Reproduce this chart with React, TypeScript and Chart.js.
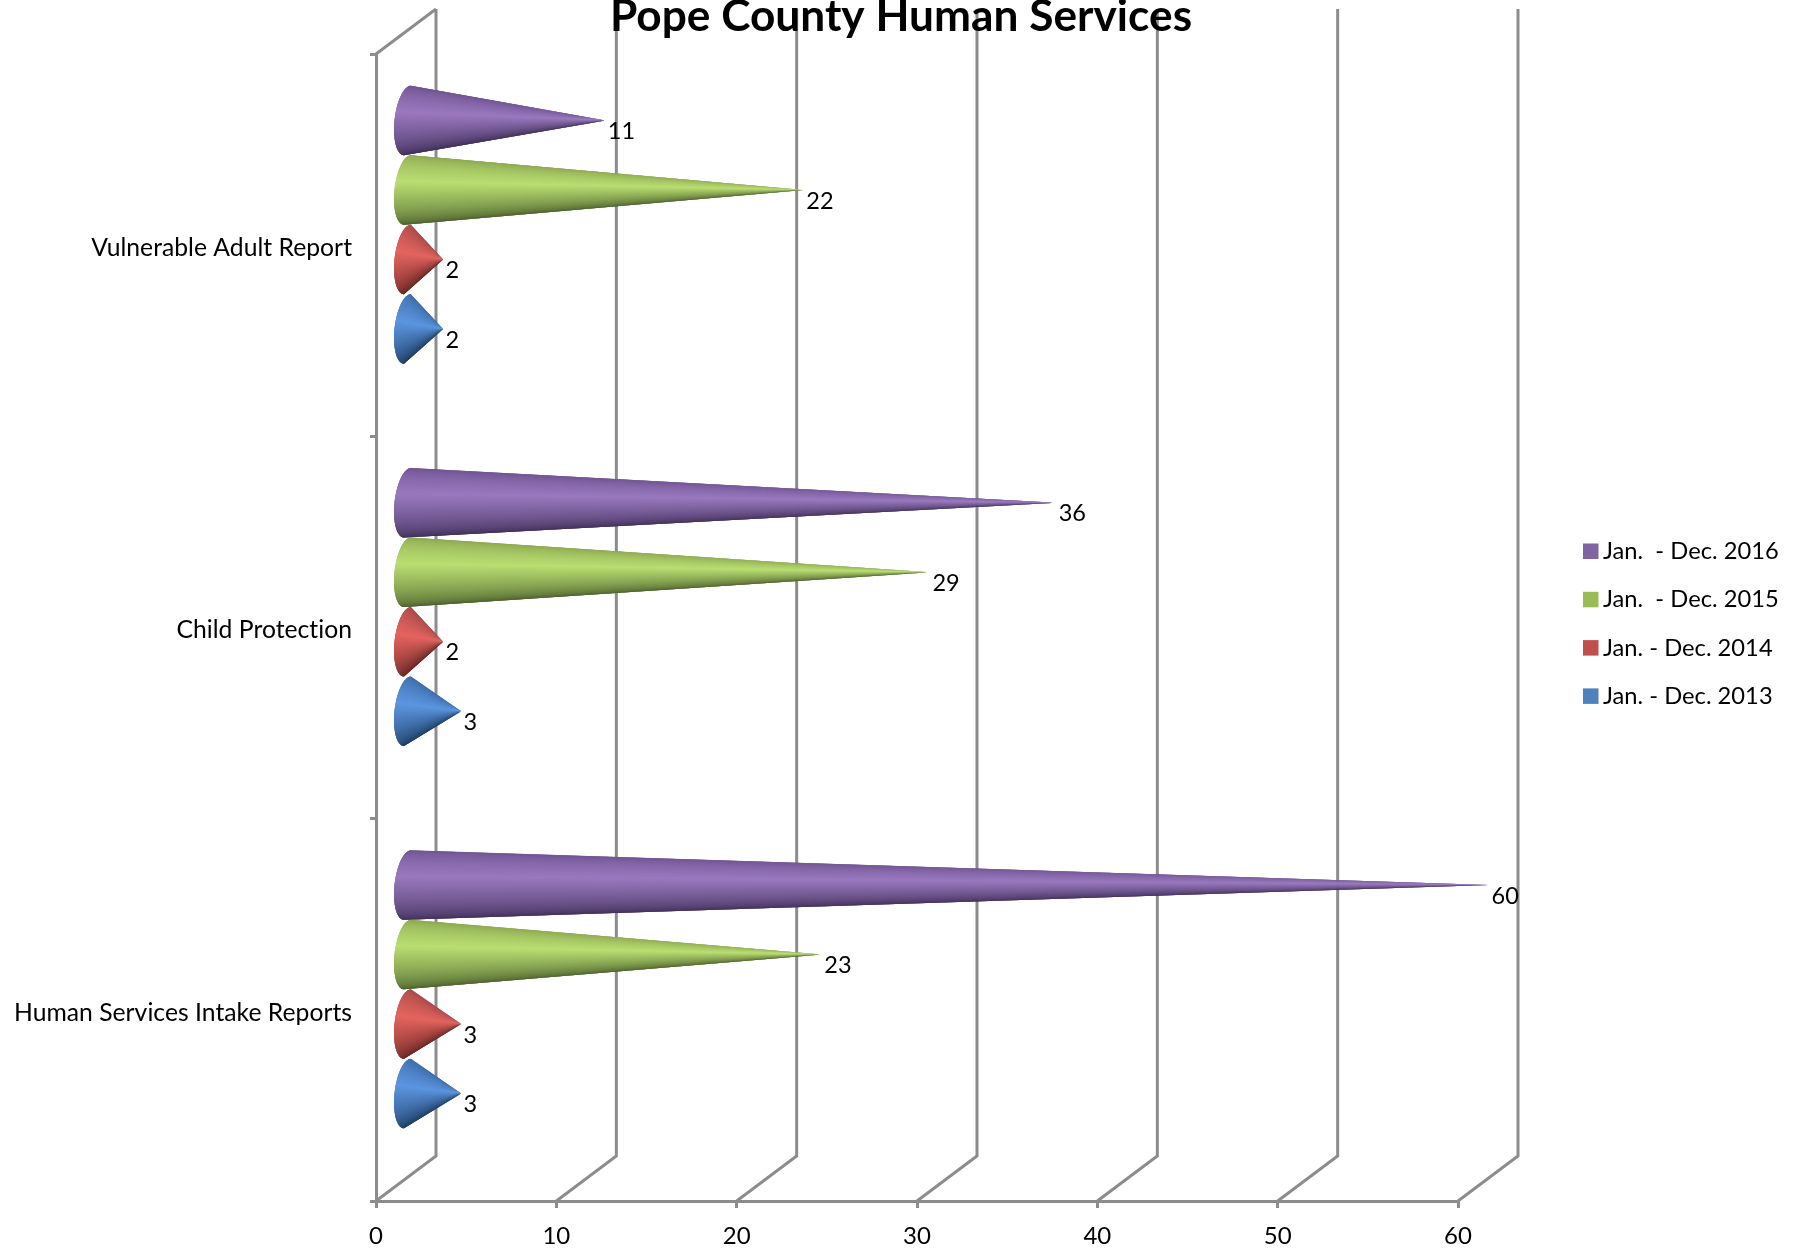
import React, { useEffect, useRef } from "react";
import { Chart, registerables, layouts } from "chart.js";

Chart.register(...registerables);

const categories = ["Vulnerable Adult Report", "Child Protection", "Human Services Intake Reports"];
const seriesNames = ["Jan.  - Dec. 2016", "Jan.  - Dec. 2015", "Jan. - Dec. 2014", "Jan. - Dec. 2013"];
const values2016 = [11, 36, 60];
const values2015 = [22, 29, 23];
const values2014 = [2, 2, 3];
const values2013 = [2, 3, 3];
const legendColors = ["#8064a2", "#9bbb59", "#c0504d", "#4f81bd"];
const coneRamps = [
  ["#6a4f8c", "#9a79bf", "#3a2b52"],
  ["#87a24d", "#bade72", "#465a2a"],
  ["#a64a48", "#e4645f", "#662725"],
  ["#3c6ca6", "#5c95e0", "#1d3c60"],
];

const FONT = "Lato, Carlito, sans-serif";
const AXIS = "#8c8c8c";
const LINE = 3;
const DEPTH_X = 60;
const DEPTH_Y = 45;
const CONE_LIFT = 20.5;

const hexToRgb = (h: string) => [1, 3, 5].map((i) => parseInt(h.slice(i, i + 2), 16));
function shade(ramp: string[], t: number) {
  const mid = 0.42;
  const [a, b, f] = t < mid ? [ramp[0], ramp[1], t / mid] : [ramp[1], ramp[2], (t - mid) / (1 - mid)];
  const ca = hexToRgb(a);
  const cb = hexToRgb(b);
  const c = ca.map((v, i) => Math.round(v + (cb[i] - v) * f));
  return `rgb(${c[0]},${c[1]},${c[2]})`;
}

function basePoint(cx: number, top: number, h: number, t: number) {
  // the slanted ellipse edge that closes the cone on the left
  const a = Math.PI * t;
  const mid = top + h / 2;
  const y = mid - (Math.cos(a) * h) / 2;
  const x = cx + 3.5 * Math.cos(a) - 13 * Math.sin(a);
  return [x, y];
}

function drawCone(ctx: CanvasRenderingContext2D, base: number, tip: number, cy: number, h: number, ramp: string[]) {
  const top = cy - h / 2;
  const steps = 80;
  for (let i = 0; i < steps; i++) {
    const t0 = i / steps;
    const t1 = Math.min(1, (i + 3) / steps);
    const p0 = basePoint(base, top, h, t0);
    const pm = basePoint(base, top, h, (t0 + t1) / 2);
    const p1 = basePoint(base, top, h, t1);
    ctx.beginPath();
    ctx.moveTo(p0[0], p0[1]);
    ctx.lineTo(pm[0], pm[1]);
    ctx.lineTo(p1[0], p1[1]);
    ctx.lineTo(tip, cy);
    ctx.closePath();
    ctx.fillStyle = shade(ramp, (i + 0.5) / steps);
    ctx.fill();
  }
}

const conePlugin = {
  id: "cones",
  beforeInit(chart: any) {
    const spacer = {
      position: "right",
      weight: 1,
      fullSize: false,
      options: {},
      width: 344,
      height: 0,
      isHorizontal: () => false,
      update(_w: number, h: number) {
        spacer.width = 344;
        spacer.height = h;
      },
      draw() {},
    };
    layouts.addBox(chart, spacer as any);
  },
  beforeDraw(chart: any) {
    const { ctx, chartArea, scales } = chart;
    const x = scales.x;
    ctx.letterSpacing = "0.02px";
    ctx.save();
    ctx.strokeStyle = AXIS;
    ctx.lineWidth = LINE;
    ctx.lineJoin = "miter";
    x.ticks.forEach((tick: any) => {
      const px = x.getPixelForValue(tick.value);
      ctx.beginPath();
      ctx.moveTo(px, chartArea.bottom);
      ctx.lineTo(px + DEPTH_X, chartArea.bottom - DEPTH_Y);
      ctx.lineTo(px + DEPTH_X, chartArea.top - DEPTH_Y);
      ctx.stroke();
    });
    ctx.beginPath();
    ctx.moveTo(chartArea.left, chartArea.top);
    ctx.lineTo(chartArea.left + DEPTH_X, chartArea.top - DEPTH_Y);
    ctx.stroke();
    ctx.restore();
  },
  beforeDatasetsDraw(chart: any) {
    const { ctx } = chart;
    ctx.save();
    chart.data.datasets.forEach((_: any, d: number) => {
      chart.getDatasetMeta(d).data.forEach((bar: any) => {
        drawCone(ctx, bar.base + DEPTH_X / 2, bar.x + DEPTH_X / 2 + 1, bar.y - CONE_LIFT, bar.height, coneRamps[d]);
      });
    });
    ctx.fillStyle = "#000";
    ctx.font = `23.5px ${FONT}`;
    ctx.textAlign = "left";
    ctx.textBaseline = "middle";
    chart.data.datasets.forEach((ds: any, d: number) => {
      chart.getDatasetMeta(d).data.forEach((bar: any, i: number) => {
        ctx.fillText(String(ds.data[i]), bar.x + DEPTH_X / 2 + 3.5, bar.y - CONE_LIFT + 11);
      });
    });
    ctx.restore();
    return false;
  },
  afterDraw(chart: any) {
    const { ctx } = chart;
    ctx.save();
    ctx.font = `23.7px ${FONT}`;
    ctx.textAlign = "left";
    ctx.textBaseline = "middle";
    chart.data.datasets.forEach((ds: any, d: number) => {
      const cy = 551.5 + d * 48.3;
      ctx.fillStyle = ds.backgroundColor;
      ctx.fillRect(1583, cy - 8, 15.5, 15.5);
      ctx.fillStyle = "#000";
      ctx.fillText(ds.label, 1603, cy);
    });
    ctx.restore();
  },
};

export default function App() {
  const ref = useRef<HTMLCanvasElement>(null);
  useEffect(() => {
    document.body.style.margin = "0";
    const seriesValues = [values2016, values2015, values2014, values2013];
    const chart = new Chart(ref.current!, {
      type: "bar",
      plugins: [conePlugin],
      data: {
        labels: categories,
        datasets: seriesNames.map((label, i) => ({
          label,
          data: seriesValues[i],
          backgroundColor: legendColors[i],
          borderWidth: 0,
          categoryPercentage: 0.727,
          barPercentage: 1,
        })),
      },
      options: {
        indexAxis: "y",
        responsive: false,
        animation: false,
        layout: { padding: { top: -10, left: 0, right: 0, bottom: 0 } },
        plugins: {
          tooltip: { enabled: false },
          legend: { display: false },
          title: {
            display: true,
            text: "Pope County Human Services",
            color: "#000",
            font: { family: FONT, size: 44.2, weight: "bold", lineHeight: 1.2 },
            padding: { top: 0, bottom: 11 },
          },
        },
        scales: {
          x: {
            min: 0,
            max: 60,
            ticks: { stepSize: 10, color: "#000", font: { family: FONT, size: 24 }, padding: 14, maxRotation: 0 },
            grid: { drawOnChartArea: false, drawTicks: true, tickLength: 7, color: AXIS, lineWidth: LINE },
            border: { color: AXIS, width: LINE },
            afterFit: (s: any) => { s.height = 51; },
          },
          y: {
            ticks: { color: "#000", font: { family: FONT, size: 24.7 }, padding: 18, autoSkip: false, labelOffset: 3 },
            grid: { drawOnChartArea: false, drawTicks: true, tickLength: 6, color: AXIS, lineWidth: LINE, offset: true },
            border: { color: AXIS, width: LINE },
            afterFit: (s: any) => { s.width = 376; },
          },
        },
      },
    } as any);
    return () => chart.destroy();
  }, []);
  return <canvas ref={ref} width={1802} height={1252} style={{ display: "block", width: 1802, height: 1252 }} />;
}
